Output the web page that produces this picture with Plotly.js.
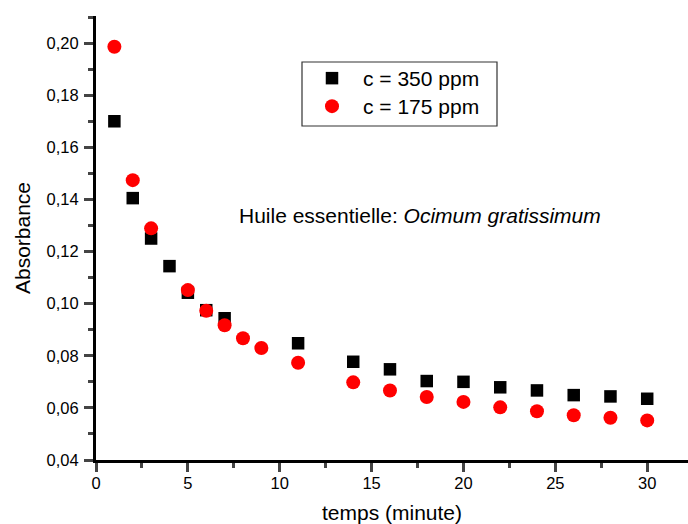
<!DOCTYPE html>
<html>
<head>
<meta charset="utf-8">
<script src="https://cdn.plot.ly/plotly-3.0.1.min.js"></script>
<style>html,body{margin:0;padding:0;background:#fff;}#chart{width:688px;height:524px;}</style>
</head>
<body>
<div id="chart"></div>
<script>
var time350 = [1, 2, 3, 4, 5, 6, 7, 11, 14, 16, 18, 20, 22, 24, 26, 28, 30];
var abs350 = [0.170, 0.1405, 0.125, 0.1144, 0.1042, 0.0975, 0.0944, 0.0848, 0.0777, 0.0748, 0.0703, 0.0700, 0.0679, 0.0667, 0.0649, 0.0644, 0.0635];
var time175 = [1, 2, 3, 5, 6, 7, 8, 9, 11, 14, 16, 18, 20, 22, 24, 26, 28, 30];
var abs175 = [0.1986, 0.1474, 0.1289, 0.1052, 0.0973, 0.0917, 0.0867, 0.083, 0.0773, 0.0698, 0.0667, 0.0642, 0.0623, 0.0602, 0.0587, 0.0572, 0.0562, 0.0552];
var seriesNames = ['c = 350 ppm', 'c = 175 ppm'];

var font = 'Liberation Sans, Arial, sans-serif';
var W = 592, H = 444, L = 96, T = 16;
function px(x) { return (x - L) / W; }
function py(y) { return (T + H - y) / H; }

var data = [
  {x: time350, y: abs350, type: 'scatter', mode: 'markers', name: seriesNames[0], legend: 'legend',
   marker: {symbol: 'square', size: 12.5, color: '#000000'}},
  {x: time175, y: abs175, type: 'scatter', mode: 'markers', name: seriesNames[1], legend: 'legend2',
   marker: {symbol: 'circle', size: 14, color: '#ff0000'}}
];
var legendBase = {xanchor: 'left', yanchor: 'top', bgcolor: 'rgba(0,0,0,0)', borderwidth: 0,
                  font: {size: 21, family: font}, itemwidth: 52};
var layout = {
  width: 688, height: 524,
  margin: {l: L, r: 0, t: T, b: 64},
  separators: ',.',
  paper_bgcolor: '#fff', plot_bgcolor: '#fff',
  font: {family: font, color: '#000', size: 16.5},
  showlegend: true,
  legend: Object.assign({x: px(301), y: py(58)}, legendBase),
  legend2: Object.assign({x: px(301), y: py(86)}, legendBase),
  shapes: [{type: 'rect', xref: 'paper', yref: 'paper', x0: px(302), x1: px(497), y0: py(62), y1: py(126),
            line: {color: '#333', width: 1.2}, fillcolor: 'rgba(0,0,0,0)'}],
  xaxis: {range: [0, 32.22], showgrid: false, zeroline: false, showline: true,
          linecolor: '#000', linewidth: 3, ticks: 'outside', ticklen: 9, tickwidth: 3,
          dtick: 5, tick0: 0, tickfont: {size: 16.5}, ticklabelstandoff: -3,
          minor: {ticks: 'outside', ticklen: 5, tickwidth: 3, dtick: 2.5, showgrid: false},
          title: {text: 'temps (minute)', font: {size: 21}, standoff: 15}},
  yaxis: {range: [0.04, 0.2104], showgrid: false, zeroline: false, showline: true,
          linecolor: '#000', linewidth: 3, ticks: 'outside', ticklen: 9, tickwidth: 3,
          dtick: 0.02, tick0: 0.04, tickformat: '.2f', tickfont: {size: 16.5}, ticklabelstandoff: 2,
          minor: {ticks: 'outside', ticklen: 5, tickwidth: 3, dtick: 0.01, showgrid: false},
          title: {text: 'Absorbance', font: {size: 21}, standoff: 11}},
  annotations: [{xref: 'paper', yref: 'paper', x: px(420), y: py(215),
                 xanchor: 'center', yanchor: 'middle', showarrow: false,
                 text: 'Huile essentielle: <i>Ocimum gratissimum</i>', font: {size: 21, family: font}}]
};
Plotly.newPlot('chart', data, layout, {displayModeBar: false, staticPlot: true});
</script>
</body>
</html>
